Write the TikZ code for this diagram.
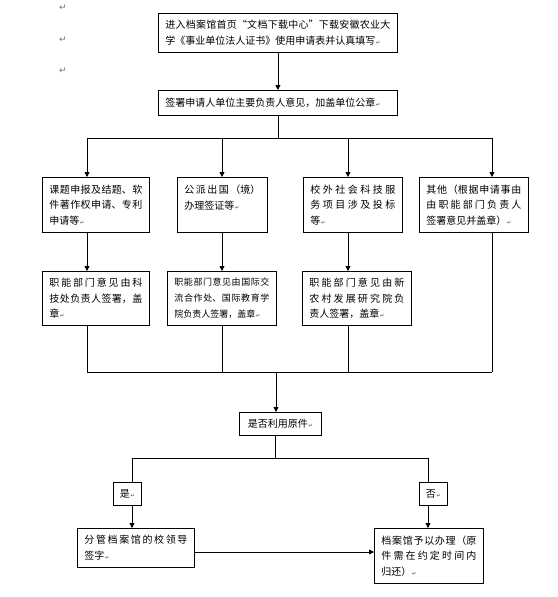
\documentclass[tikz,border=0pt]{standalone}
\usepackage{fontspec}
\setmainfont{Noto Sans CJK SC}
\newfontfamily\symf{DejaVu Sans}
\usetikzlibrary{arrows.meta}
\XeTeXlinebreaklocale "zh"
\XeTeXlinebreakskip=0pt plus 1pt
\newcommand\pmk{\nobreak\hspace{0.8pt}{\symf\fontsize{5}{5}\selectfont\textcolor{black!80}{↵}}}
\begin{document}
\begin{tikzpicture}[x=1pt,y=-1pt,
  ln/.style={line width=0.8pt},
  arr/.style={line width=0.8pt,-{Triangle[length=5pt,width=5pt]}},
  box/.style={draw,line width=0.8pt,anchor=north west,inner xsep=7pt,inner ysep=0pt,
    align=justify,font=\fontsize{10}{15.5}\selectfont},
  sbox/.style={draw,line width=0.8pt,anchor=north west,inner sep=0pt,
    font=\fontsize{10}{15.5}\selectfont},
  mk/.style={text=black!55,font=\symf\fontsize{9}{9}\selectfont,inner sep=0pt}]
\useasboundingbox (0,0) rectangle (557,597);
% margin marks
\node[mk] (p1) at (63,8) {↵};
\node[mk] (p2) at (63,40) {↵};
\node[mk] (p3) at (63,71) {↵};
% boxes
\node[box,text width=225pt,minimum height=39pt] (top) at (158,13)
  {进入档案馆首页“文档下载中心”下载安徽农业大\linebreak 学《事业单位法人证书》使用申请表并认真填写\pmk};
\node[box,text width=225pt,minimum height=25pt] (sig) at (158,90)
  {签署申请人单位主要负责人意见，加盖单位公章\pmk};
\node[box,text width=93pt,minimum height=55pt] (b1) at (42,177)
  {课题申报及结题、软\linebreak 件著作权申请、专利\linebreak 申请等\pmk};
\node[box,text width=76pt,minimum height=55pt] (b2) at (177,177)
  {公派出国（境）\linebreak 办理签证等\pmk\\\mbox{}};
\node[box,text width=85pt,minimum height=55pt] (b3) at (303,177)
  {校外社会科技服\linebreak 务项目涉及投标\linebreak 等\pmk};
\node[box,text width=95pt,minimum height=55pt] (b4) at (419,177)
  {其他（根据申请事由\linebreak 由职能部门负责人\linebreak 签署意见并盖章）\pmk};
\node[box,text width=93pt,minimum height=54pt] (c1) at (42,271)
  {职能部门意见由科\linebreak 技处负责人签署，盖\linebreak 章\pmk};
\node[box,text width=95pt,minimum height=54pt,font=\fontsize{9}{16}\selectfont] (c2) at (167,271)
  {职能部门意见由国际交\linebreak 流合作处、国际教育学\linebreak 院负责人签署，盖章\pmk};
\node[box,text width=95pt,minimum height=54pt] (c3) at (302,271)
  {职能部门意见由新\linebreak 农村发展研究院负\linebreak 责人签署，盖章\pmk};
\node[sbox,minimum width=82pt,minimum height=23pt] (dec) at (239,412)
  {是否利用原件\pmk};
\node[sbox,minimum width=28pt,minimum height=23pt] (yes) at (113,482) {是\pmk};
\node[sbox,minimum width=28pt,minimum height=23pt] (no) at (419,482) {否\pmk};
\node[box,text width=103pt,minimum height=39pt] (l) at (77,528)
  {分管档案馆的校领导\linebreak 签字\pmk};
\node[box,text width=95pt,minimum height=55pt] (r) at (374,528)
  {档案馆予以办理（原\linebreak 件需在约定时间内\linebreak 归还）\pmk};
% junction coordinates
\coordinate (s1) at (87,138);
\coordinate (s2) at (222,138);
\coordinate (s3) at (348,138);
\coordinate (s4) at (492,138);
\coordinate (m) at (276,372);
\coordinate (dj) at (275,458);
\coordinate (y1) at (132,458);
\coordinate (n1) at (428,458);
\coordinate (h) at (0,552);
% connectors
\draw[arr] (top.south) -- (sig.north);
\draw[ln] (sig.south) -- (sig.south |- s1);
\draw[ln] (s1) -- (s4);
\draw[arr] (s1) -- (s1 |- b1.north);
\draw[arr] (s2) -- (s2 |- b2.north);
\draw[arr] (s3) -- (s3 |- b3.north);
\draw[arr] (s4) -- (s4 |- b4.north);
\draw[arr] (s1 |- b1.south) -- (s1 |- c1.north);
\draw[arr] (s2 |- b2.south) -- (s2 |- c2.north);
\draw[arr] (s3 |- b3.south) -- (s3 |- c3.north);
\draw[ln] (s1 |- c1.south) -- (s1 |- m);
\draw[ln] (s2 |- c2.south) -- (s2 |- m);
\draw[ln] (s3 |- c3.south) -- (s3 |- m);
\draw[ln] (s4 |- b4.south) -- (s4 |- m);
\draw[ln] (s1 |- m) -- (s4 |- m);
\draw[arr] (m) -- (m |- dec.north);
\draw[ln] (dj |- dec.south) -- (dj);
\draw[ln] (y1) -- (n1);
\draw[ln] (y1) -- (y1 |- yes.north);
\draw[ln] (n1) -- (n1 |- no.north);
\draw[arr] (y1 |- yes.south) -- (y1 |- l.north);
\draw[arr] (n1 |- no.south) -- (n1 |- r.north);
\draw[arr] (l.east |- h) -- (r.west |- h);
\end{tikzpicture}
\end{document}
